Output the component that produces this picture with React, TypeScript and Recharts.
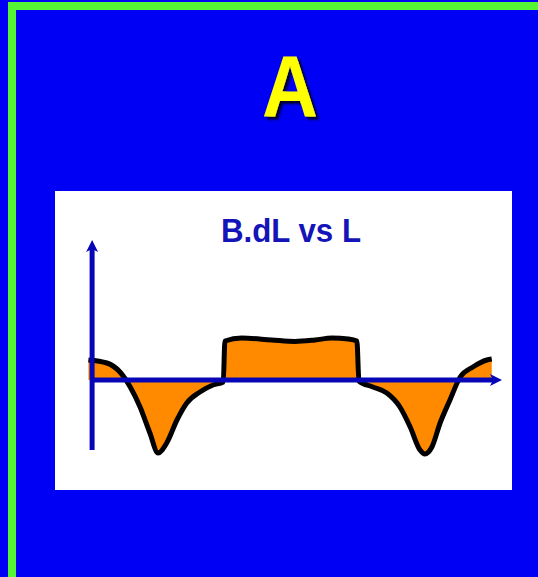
import { AreaChart, Area, XAxis, YAxis, ReferenceLine } from "recharts";

// L position along the line and B.dL value
const positions = [-0.9, 3.6, 6.8, 9.3, 11.7, 14.1, 16.1, 18.2, 20.7, 23.1, 26.3, 29.5, 32.0, 32.4, 36.5, 43.8, 49.5, 54.4, 58.5, 62.5, 64.6, 65.1, 68.5, 71.9, 75.1, 77.6, 80.0, 81.2, 82.9, 84.9, 87.3, 89.8, 92.9, 96.3, 97.5];
const fieldValues = [2.0, 1.7, 0.8, -0.7, -2.7, -5.3, -7.3, -6.3, -4.0, -2.3, -1.2, -0.5, -0.2, 3.9, 4.2, 4.0, 3.85, 4.0, 4.2, 4.1, 3.9, -0.1, -0.7, -1.3, -2.7, -4.7, -7.0, -7.4, -6.7, -4.3, -2.0, 0.3, 1.3, 2.0, 2.1];

const xDomain = [-1, 100];
const yDomain = [-8, 14];
const xAxisSpan = [0, 100];
const yAxisSpan = [-7, 14];

const chartTitle = "B.dL vs L";
const panelLabel = "A";

const data = positions.map((L, i) => ({ L, B: fieldValues[i] }));

const AXIS_BLUE = "#0606B8";

function ArrowLine(props: any) {
  const { x1, y1, x2, y2 } = props;
  const dx = x2 - x1;
  const dy = y2 - y1;
  const len = Math.hypot(dx, dy) || 1;
  const ux = dx / len;
  const uy = dy / len;
  const head = 12;
  const half = 6;
  const bx = x2 - ux * head;
  const by = y2 - uy * head;
  const nx = x2 - ux * (head - 3);
  const ny = y2 - uy * (head - 3);
  const pts = `${x2},${y2} ${bx - uy * half},${by + ux * half} ${nx},${ny} ${bx + uy * half},${by - ux * half}`;
  return (
    <g>
      <line x1={x1} y1={y1} x2={nx} y2={ny} stroke={AXIS_BLUE} strokeWidth={5} />
      <polygon points={pts} fill={AXIS_BLUE} />
    </g>
  );
}

export default function App() {
  return (
    <div style={{ position: "absolute", left: 0, top: 0, width: 538, height: 577, background: "#0000F5", overflow: "hidden" }}>
      <div
        style={{
          position: "absolute",
          left: 8,
          top: 2,
          width: 600,
          height: 620,
          borderTop: "8px solid #55F535",
          borderLeft: "8px solid #55F535",
        }}
      />
      <div style={{ position: "absolute", left: 55, top: 191, width: 457, height: 299, background: "#FFFFFF" }}>
        <AreaChart width={457} height={299} data={data} margin={{ top: 49, right: 10, bottom: 30, left: 33 }}>
          <XAxis dataKey="L" type="number" domain={xDomain} hide />
          <YAxis type="number" domain={yDomain} hide />
          <Area
            type="monotone"
            dataKey="B"
            stroke="#000000"
            strokeWidth={5}
            fill="#FF8A00"
            fillOpacity={1}
            isAnimationActive={false}
            dot={false}
            activeDot={false}
          />
          <ReferenceLine
            segment={[{ x: xAxisSpan[0], y: 0 }, { x: xAxisSpan[1], y: 0 }]}
            shape={ArrowLine}
          />
          <ReferenceLine
            segment={[{ x: 0, y: yAxisSpan[0] }, { x: 0, y: yAxisSpan[1] }]}
            shape={ArrowLine}
          />
        </AreaChart>
      </div>
      <svg width={538} height={577} style={{ position: "absolute", left: 0, top: 0, pointerEvents: "none" }}>
        <defs>
          <filter id="shadow" x="-20%" y="-20%" width="150%" height="150%">
            <feDropShadow dx={3} dy={3} stdDeviation={1.2} floodColor="#000033" floodOpacity={1} />
          </filter>
        </defs>
        <text
          x={262}
          y={116}
          fontFamily="Liberation Sans, Arial, sans-serif"
          fontWeight="bold"
          fontSize={87}
          fill="#FFFF00"
          textLength={56}
          lengthAdjust="spacingAndGlyphs"
          filter="url(#shadow)"
        >
          {panelLabel}
        </text>
        <text
          x={221}
          y={242}
          fontFamily="Liberation Sans, Arial, sans-serif"
          fontWeight="bold"
          fontSize={34}
          fill="#1414B8"
          textLength={140}
          lengthAdjust="spacingAndGlyphs"
        >
          {chartTitle}
        </text>
      </svg>
    </div>
  );
}
